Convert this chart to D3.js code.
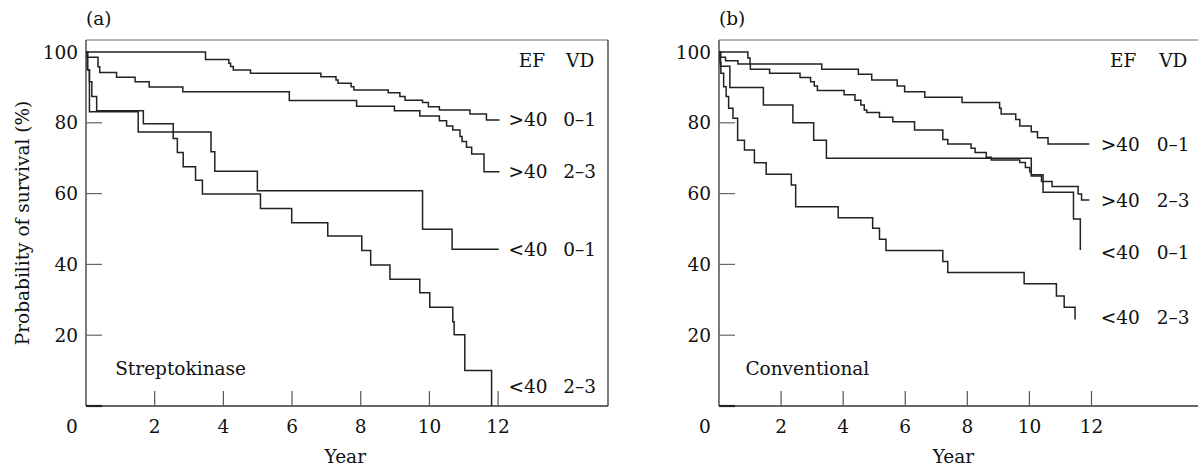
<!DOCTYPE html>
<html>
<head>
<meta charset="utf-8">
<script src="https://cdn.jsdelivr.net/npm/d3@7"></script>
<style>
  html, body { margin: 0; padding: 0; background: #fff; overflow: hidden; }
  svg { display: block; }
  svg text { font-family: "DejaVu Serif", "Liberation Serif", serif; fill: #111; }
</style>
</head>
<body>
<div id="chart"></div>
<script>
// survival curves, [year, % surviving]
var strepHigh01 = [[0,100],[3.48,97.9],[4.16,96.8],[4.21,95.9],[4.29,94.9],[4.79,94.0],[6.84,93.0],[7.28,92.1],[7.34,91.2],[7.72,90.2],[7.80,89.3],[8.80,88.5],[9.14,87.4],[9.29,86.4],[9.80,85.7],[9.97,84.5],[10.29,83.6],[11.18,82.5],[11.66,80.8],[12.04,80.8]];
var strepHigh23 = [[0,100],[0.03,98.5],[0.35,95.8],[0.40,94.2],[0.89,92.9],[1.43,91.6],[1.84,90.1],[2.82,88.8],[5.92,86.3],[7.88,84.7],[8.98,83.4],[9.72,81.9],[10.29,80.6],[10.50,79.1],[10.68,78.0],[10.89,76.1],[10.95,74.7],[11.08,73.1],[11.23,71.2],[11.59,66.2],[12.04,66.2]];
var strepLow01 = [[0,100],[0.04,95.0],[0.10,83.1],[1.52,77.4],[3.64,71.8],[3.75,66.3],[4.99,60.8],[9.80,49.9],[10.66,44.3],[12.02,44.3]];
var strepLow23 = [[0,100],[0.05,95.0],[0.10,91.6],[0.17,87.4],[0.31,83.4],[1.67,79.7],[2.54,75.6],[2.66,71.6],[2.83,67.6],[3.19,63.8],[3.39,59.9],[5.08,55.8],[5.99,51.8],[7.04,48.0],[8.03,43.9],[8.29,39.8],[8.85,35.8],[9.72,32.0],[10.01,27.9],[10.68,23.8],[10.72,20.1],[11.03,10.0],[11.81,0]];

var convHigh01 = [[0,100],[0.93,98.3],[1.00,96.6],[3.31,95.1],[4.49,93.7],[4.92,92.1],[5.74,90.4],[5.98,88.8],[6.63,87.2],[7.83,85.7],[9.04,84.1],[9.09,82.5],[9.56,80.9],[9.69,79.1],[10.06,77.5],[10.26,75.8],[10.60,74.0],[11.93,74.0]];
var convHigh23 = [[0,100],[0.05,98.5],[0.21,97.5],[0.61,96.6],[1.01,95.1],[1.63,94.0],[2.61,92.8],[2.95,91.6],[3.07,90.4],[3.17,89.1],[4.03,87.9],[4.38,86.4],[4.57,85.0],[4.68,83.6],[4.76,82.9],[5.17,81.6],[5.60,80.3],[6.30,78.0],[7.21,75.3],[7.37,74.0],[8.12,72.8],[8.25,71.6],[8.61,70.3],[8.77,69.5],[9.69,68.8],[9.87,67.4],[10.01,66.2],[10.06,65.0],[10.39,63.4],[10.73,62.0],[11.57,59.9],[11.68,58.2],[11.93,58.2]];
var convLow01 = [[0,100],[0.05,96.0],[0.35,90.0],[1.43,85.0],[2.38,80.0],[3.05,75.1],[3.46,70.0],[10.06,65.3],[10.44,60.4],[11.42,52.8],[11.64,44.1]];
var convLow23 = [[0,100],[0.03,97.0],[0.06,94.0],[0.15,90.2],[0.23,87.4],[0.31,84.1],[0.45,81.3],[0.60,75.1],[0.82,72.3],[1.14,68.7],[1.52,65.5],[2.33,62.4],[2.47,56.3],[3.84,53.2],[4.95,50.2],[5.17,47.1],[5.38,43.9],[7.21,40.8],[7.37,37.7],[9.83,34.5],[10.87,31.1],[11.12,27.9],[11.47,24.4]];

var yearTicks = [0, 2, 4, 6, 8, 10, 12];
var pctTicks = [0, 20, 40, 60, 80, 100];
var efLabels = [">40", ">40", "<40", "<40"];
var vdLabels = ["0\u20131", "2\u20133", "0\u20131", "2\u20133"];
// where the row labels sit, in % units
var strepLabelPct = [80.9, 66.2, 44.3, 5.5];
var convLabelPct = [74.0, 58.2, 43.5, 25.0];

var width = 1198, height = 467;
var fs = 18.5;
var svg = d3.select("#chart").append("svg")
    .attr("width", width)
    .attr("height", height);

var y = d3.scaleLinear().domain([0, 100]).range([406, 52]);

var panels = [
    {tag: "(a)", name: "Streptokinase", left: 86, right: 608, xmax: 15.2, vdCol: 13.9,
     series: [strepHigh01, strepHigh23, strepLow01, strepLow23], labelPct: strepLabelPct, yTitle: true, closed: true},
    {tag: "(b)", name: "Conventional", left: 719, right: 1202, xmax: 15.56, vdCol: 14.1,
     series: [convHigh01, convHigh23, convLow01, convLow23], labelPct: convLabelPct, yTitle: false, closed: false}
];

panels.forEach(function(p){
    var x = d3.scaleLinear().domain([0, p.xmax]).range([p.left, p.right]);
    var g = svg.append("g");
    var top = 40, bottom = y(0);

    // frame
    g.append("line").attr("x1", p.left).attr("x2", p.right).attr("y1", top).attr("y2", top)
        .attr("stroke", "#666").attr("stroke-width", 1);
    g.append("line").attr("x1", p.left).attr("x2", p.right).attr("y1", bottom).attr("y2", bottom)
        .attr("stroke", "#333").attr("stroke-width", 1.3);
    g.append("line").attr("x1", p.left).attr("x2", p.left).attr("y1", top).attr("y2", bottom)
        .attr("stroke", "#333").attr("stroke-width", 1.3);
    if (p.closed) {
        g.append("line").attr("x1", p.right).attr("x2", p.right).attr("y1", top).attr("y2", bottom)
            .attr("stroke", "#333").attr("stroke-width", 1.3);
    }

    // y ticks point inward
    g.selectAll(".ytick").data(pctTicks.filter(function(d){ return d < 100; }))
        .enter().append("line")
        .attr("x1", p.left).attr("x2", p.left + 16)
        .attr("y1", function(d){ return y(d); }).attr("y2", function(d){ return y(d); })
        .attr("stroke", function(d){ return d === 0 ? "#222" : "#666"; })
        .attr("stroke-width", function(d){ return d === 0 ? 2.2 : 1.2; });
    g.selectAll(".ylab").data(pctTicks.filter(function(d){ return d > 0; }))
        .enter().append("text")
        .attr("x", p.left - 8).attr("y", function(d){ return y(d); })
        .attr("dy", "0.36em").attr("text-anchor", "end")
        .attr("font-size", fs)
        .text(function(d){ return d; });

    // x ticks point upward
    g.selectAll(".xtick").data(yearTicks.filter(function(d){ return d > 0; }))
        .enter().append("line")
        .attr("x1", function(d){ return x(d); }).attr("x2", function(d){ return x(d); })
        .attr("y1", bottom).attr("y2", bottom - 15)
        .attr("stroke", "#555").attr("stroke-width", 1.2);
    g.selectAll(".xlab").data(yearTicks)
        .enter().append("text")
        .attr("x", function(d){ return d === 0 ? x(d) - 14 : x(d); })
        .attr("y", bottom + 27)
        .attr("text-anchor", "middle")
        .attr("font-size", fs)
        .text(function(d){ return d; });

    g.append("text").attr("x", x(7.55)).attr("y", 463)
        .attr("text-anchor", "middle").attr("font-size", fs).text("Year");
    g.append("text").attr("x", p.left).attr("y", 25)
        .attr("font-size", fs).text(p.tag);
    g.append("text").attr("x", x(0.85)).attr("y", y(8.8))
        .attr("font-size", fs).text(p.name);

    if (p.yTitle) {
        g.append("text")
            .attr("transform", "translate(29," + 223 + ") rotate(-90)")
            .attr("text-anchor", "middle").attr("font-size", fs)
            .text("Probability of survival (%)");
    }

    var line = d3.line()
        .x(function(d){ return x(d[0]); })
        .y(function(d){ return y(d[1]); })
        .curve(d3.curveStepAfter);

    g.selectAll(".curve").data(p.series)
        .enter().append("path")
        .attr("d", line)
        .attr("fill", "none")
        .attr("stroke", "#222")
        .attr("stroke-width", 1.5);

    // legend columns
    g.append("text").attr("x", x(12.6)).attr("y", y(97.7)).attr("dy", "0.36em")
        .attr("font-size", fs).text("EF");
    g.append("text").attr("x", x(p.vdCol + 0.08)).attr("y", y(97.7)).attr("dy", "0.36em")
        .attr("font-size", fs).text("VD");
    g.selectAll(".ef").data(efLabels).enter().append("text")
        .attr("x", x(12.3)).attr("y", function(d, i){ return y(p.labelPct[i]); })
        .attr("dy", "0.36em").attr("font-size", fs)
        .text(function(d){ return d; });
    g.selectAll(".vd").data(vdLabels).enter().append("text")
        .attr("x", x(p.vdCol)).attr("y", function(d, i){ return y(p.labelPct[i]); })
        .attr("dy", "0.36em").attr("font-size", fs)
        .text(function(d){ return d; });
});
</script>
</body>
</html>
